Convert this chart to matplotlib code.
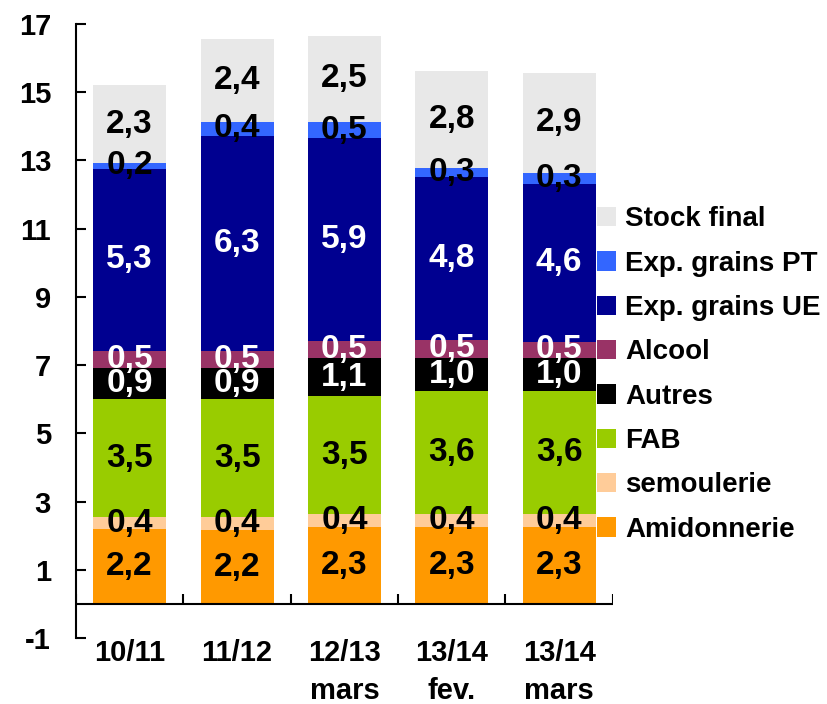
"""
Stacked bar chart of maize use (Mt) by campaign.
"""

import matplotlib.pyplot as plt
import numpy as np

plt.rcParams['font.family'] = ['Liberation Sans', 'DejaVu Sans']
plt.rcParams['font.weight'] = 'bold'
plt.rcParams['axes.unicode_minus'] = False

campaigns = ['10/11', '11/12', '12/13\nmars', '13/14\nfev.', '13/14\nmars']

# stack order, bottom to top
series = ['Amidonnerie', 'semoulerie', 'FAB', 'Autres', 'Alcool',
          'Exp. grains UE', 'Exp. grains PT', 'Stock final']
colors = ['#FF9900', '#FFCC99', '#99CC00', '#000000', '#993366',
          '#000090', '#3366FF', '#E8E8E8']
text_colors = ['black', 'black', 'black', 'white', 'white',
               'white', 'black', 'black']

amidonnerie = [2.18, 2.16, 2.26, 2.26, 2.26]
semoulerie = [0.36, 0.38, 0.36, 0.38, 0.38]
fab = [3.47, 3.47, 3.46, 3.61, 3.61]
autres = [0.91, 0.91, 1.14, 0.96, 0.96]
alcool = [0.50, 0.50, 0.50, 0.53, 0.47]
exp_ue = [5.34, 6.30, 5.93, 4.78, 4.64]
exp_pt = [0.16, 0.41, 0.48, 0.27, 0.32]
stock_final = [2.29, 2.44, 2.53, 2.84, 2.93]

values = [amidonnerie, semoulerie, fab, autres, alcool, exp_ue, exp_pt, stock_final]

fig = plt.figure(figsize=(8.27, 7.04), dpi=100)
ax = fig.add_axes([0.0919, 0.0938, 0.741 - 0.0919, 0.9659 - 0.0938])

x = np.arange(len(campaigns))
bottom = np.zeros(len(campaigns))
handles = []
for name, vals, color, tcolor in zip(series, values, colors, text_colors):
    vals = np.array(vals)
    bars = ax.bar(x, vals, width=0.68, bottom=bottom, color=color, label=name)
    handles.append(bars)
    for xi, b, v in zip(x, bottom, vals):
        ax.text(xi, b + v / 2, f'{v:.1f}'.replace('.', ','), ha='center',
                va='center', fontsize=24, fontweight='bold', color=tcolor)
    bottom += vals

ax.set_xlim(-0.5, len(campaigns) - 0.5)
ax.set_ylim(-1, 17)
ax.set_yticks(np.arange(-1, 18, 2))
ax.tick_params(axis='y', direction='in', length=7, width=1.5, pad=18,
               labelsize=21)
ax.set_xticks(x)
ax.set_xticklabels(campaigns, fontsize=21, linespacing=1.45, va='top')
ax.tick_params(axis='x', length=0, pad=1)

for side in ('top', 'right', 'bottom'):
    ax.spines[side].set_visible(False)
ax.spines['left'].set_linewidth(1.5)

# category axis drawn at zero with boundary ticks
ax.axhline(0, color='black', lw=1.5)
bounds = np.arange(len(campaigns) + 1) - 0.5
ax.vlines(bounds, 0, 0.3, color='black', lw=1.5)

fig.legend(handles[::-1], series[::-1], loc='center left',
           bbox_to_anchor=(0.722, 0.468), bbox_transform=fig.transFigure,
           frameon=False, fontsize=20, handlelength=0.68, handleheight=0.68,
           handletextpad=0.33, labelspacing=0.66, borderpad=0,
           borderaxespad=0)

fig.savefig('out.png', dpi=100)
